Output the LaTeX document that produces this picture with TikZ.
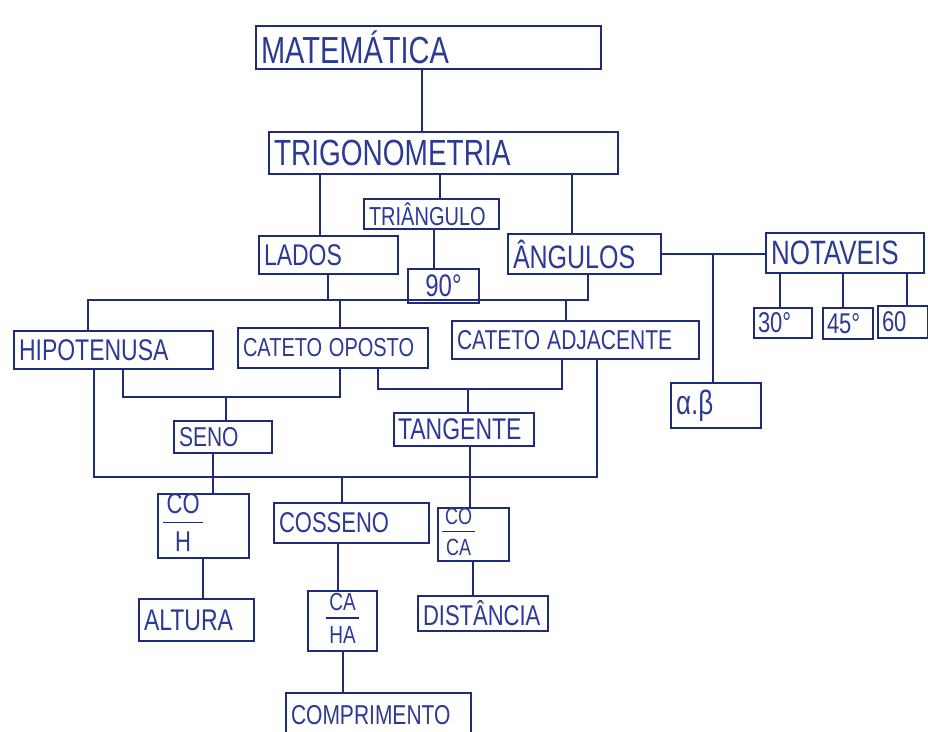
\documentclass[tikz,border=0pt]{standalone}
\usepackage{fontspec}
\usepackage{graphicx}
\setmainfont{Liberation Sans}
\usetikzlibrary{calc}
\definecolor{ink}{HTML}{1F2A78}
\definecolor{inktext}{HTML}{2B3A96}
\newcommand{\fs}[1]{\fontsize{#1}{#1}\selectfont}
% lettering is a little taller than the font's own proportions
\newcommand{\tall}[1]{\scalebox{1}[1.3]{#1}}
% stacked fraction written with a bar between the two parts
\newcommand{\handfrac}[2]{{\setlength{\arrayrulewidth}{1.6pt}\color{ink}%
  \begin{tabular}{@{\,}c@{\,}}\color{inktext}\tall{#1}\\[1pt]\hline\rule{0pt}{1.3em}\color{inktext}\tall{#2}\end{tabular}}}
\begin{document}
\begin{tikzpicture}[x=1pt,y=-1pt,
  box/.style={draw=ink, line width=2pt, rectangle, anchor=north west,
    inner xsep=5pt, inner ysep=0pt, align=left, text=inktext},
  cbox/.style={box, align=center},
  link/.style={draw=ink, line width=2pt}]
\useasboundingbox (0,0) rectangle (928,731);
\fill[white] (0,0) rectangle (928,731);

% ---- concept boxes ----
\node[box, minimum height=43, text width=335, font=\fs{29}] (mat) at (255,25) {\tall{MATEMÁTICA}};
\node[box, minimum height=42, text width=339, font=\fs{28}] (trig) at (268,131) {\tall{TRIGONOMETRIA}};
\node[box, minimum height=30, text width=125, font=\fs{20}] (tri) at (363,198) {\tall{TRIÂNGULO}};
\node[box, minimum height=38, text width=129, font=\fs{23}] (lados) at (258,235) {\tall{LADOS}};
\node[box, minimum height=40, text width=143, font=\fs{25}] (ang) at (507,233) {\tall{ÂNGULOS}};
\node[cbox, minimum height=34, text width=61, font=\fs{24}] (n90) at (407,268) {\tall{90°}};
\node[box, minimum height=40, text width=148, font=\fs{26}] (notaveis) at (765,232) {\tall{NOTAVEIS}};
\node[box, minimum height=30, text width=50, inner xsep=4pt, font=\fs{22}] (n30) at (753,307) {\tall{30°}};
\node[box, minimum height=31, text width=42, inner xsep=4pt, font=\fs{22}] (n45) at (822,307) {\tall{45°}};
\node[box, minimum height=32, text width=42, inner xsep=4pt, font=\fs{22}] (n60) at (877,305) {\tall{60}};
\node[box, minimum height=38, text width=189, font=\fs{23}] (hip) at (13,330) {\tall{HIPOTENUSA}};
\node[box, minimum height=40, text width=180, font=\fs{20}] (co) at (237,327) {\tall{CATETO OPOSTO}};
\node[box, minimum height=38, text width=237, font=\fs{21}] (ca) at (451,320) {\tall{CATETO ADJACENTE}};
\node[box, minimum height=45, text width=80, font=\fs{26}] (ab) at (670,382) {\tall{α.β}};
\node[box, minimum height=32, text width=88, font=\fs{21}] (seno) at (173,420) {\tall{SENO}};
\node[box, minimum height=33, text width=132, inner xsep=4pt, font=\fs{23}] (tan) at (393,412) {\tall{TANGENTE}};
\node[box, minimum height=62, text width=81, font=\fs{22}] (coh) at (157,493) {\handfrac{CO}{H}};
\node[box, minimum height=40, text width=145, font=\fs{22}] (cos) at (273,502) {\tall{COSSENO}};
\node[box, minimum height=51, text width=63, inner xsep=4pt, font=\fs{18}] (coca) at (437,507) {\handfrac{CO}{CA}};
\node[box, minimum height=42, text width=105, font=\fs{23}] (alt) at (138,598) {\tall{ALTURA}};
\node[cbox, minimum height=60, text width=61, inner xsep=4pt, font=\fs{19}] (cah) at (307,590) {\handfrac{CA}{HA}};
\node[box, minimum height=35, text width=120, font=\fs{22}] (dist) at (417,595) {\tall{DISTÂNCIA}};
\node[box, minimum height=45, text width=175, font=\fs{21}] (comp) at (285,692) {\tall{COMPRIMENTO}};

% ---- bus junctions ----
\coordinate (b1L) at (88,300);
\coordinate (b1R) at (588,300);
\coordinate (s1) at (123,397);
\coordinate (s2) at (340,397);
\coordinate (t1) at (378,389);
\coordinate (t2) at (562,389);
\coordinate (c1) at (94,477);
\coordinate (c2) at (597,477);
\coordinate (j1) at (713,253);

% ---- connectors ----
\draw[link] (mat.south -| 422,0) -- (trig.north -| 422,0);
\draw[link] (trig.south -| 320,0) -- (lados.north -| 320,0);
\draw[link] (trig.south -| 440,0) -- (tri.north -| 440,0);
\draw[link] (trig.south -| 572,0) -- (ang.north -| 572,0);
\draw[link] (tri.south -| 434,0) -- (n90.north -| 434,0);

\draw[link] (ang.east) -- (ang.east -| notaveis.west);
\draw[link] (j1) -- (ab.north -| j1);
\draw[link] (notaveis.south -| 780,0) -- (n30.north -| 780,0);
\draw[link] (notaveis.south -| 843,0) -- (n45.north -| 843,0);
\draw[link] (notaveis.south -| 907,0) -- (n60.north -| 907,0);

\draw[link] (hip.north -| b1L) -- (b1L) -- (b1R) -- (ang.south -| b1R);
\draw[link] (lados.south -| 328,0) -- (328,0 |- b1L);
\draw[link] (co.north -| 340,0) -- (340,0 |- b1L);
\draw[link] (ca.north -| 566,0) -- (566,0 |- b1L);

\draw[link] (hip.south -| s1) -- (s1) -- (s2) -- (co.south -| s2);
\draw[link] (226,0 |- s1) -- (seno.north -| 226,0);

\draw[link] (co.south -| t1) -- (t1) -- (t2) -- (ca.south -| t2);
\draw[link] (468,0 |- t1) -- (tan.north -| 468,0);

\draw[link] (hip.south -| c1) -- (c1) -- (c2) -- (ca.south -| c2);
\draw[link] (342,0 |- c1) -- (cos.north -| 342,0);

\draw[link] (seno.south -| 213,0) -- (coh.north -| 213,0);
\draw[link] (tan.south -| 470,0) -- (coca.north -| 470,0);
\draw[link] (coh.south -| 203,0) -- (alt.north -| 203,0);
\draw[link] (cos.south -| 338,0) -- (cah.north -| 338,0);
\draw[link] (coca.south -| 473,0) -- (dist.north -| 473,0);
\draw[link] (cah.south -| 343,0) -- (comp.north -| 343,0);
\end{tikzpicture}
\end{document}
